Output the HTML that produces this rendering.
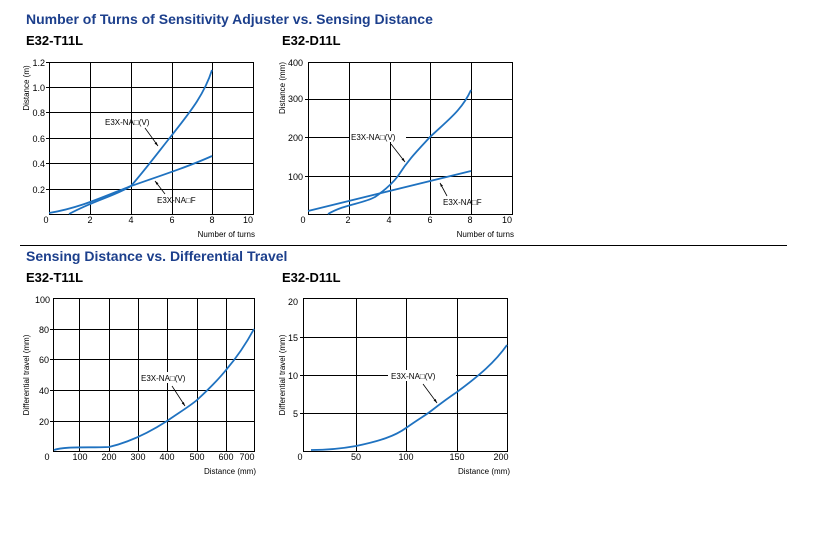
<!DOCTYPE html>
<html><head><meta charset="utf-8"><style>
html,body{margin:0;padding:0;background:#fff;}
svg{display:block;font-family:"Liberation Sans",Arial,sans-serif;}
.t{font-size:9px;fill:#000}
.l{font-size:8px;fill:#000}
.g{stroke:#000;stroke-width:1;fill:none}
.c{stroke:#1f72c0;stroke-width:1.8;fill:none}
.a{stroke:#000;stroke-width:0.8;fill:none}
</style></head><body>
<svg width="819" height="541" viewBox="0 0 819 541">
<text x="26" y="24" font-size="14" font-weight="bold" fill="#1c3f8c">Number of Turns of Sensitivity Adjuster vs. Sensing Distance</text>
<text x="26" y="45" font-size="13" font-weight="bold">E32-T11L</text>
<text x="282" y="45" font-size="13" font-weight="bold">E32-D11L</text>
<line x1="20" y1="245.5" x2="787" y2="245.5" stroke="#000" stroke-width="1"/>
<text x="26" y="261" font-size="14" font-weight="bold" fill="#1c3f8c">Sensing Distance vs. Differential Travel</text>
<text x="26" y="282" font-size="13" font-weight="bold">E32-T11L</text>
<text x="282" y="282" font-size="13" font-weight="bold">E32-D11L</text>

<!-- Chart 1 -->
<g>
<rect x="49.5" y="62.5" width="204" height="152" class="g"/>
<path class="g" d="M90.5 62V214M131.5 62V214M172.5 62V214M212.5 62V214M46 62.5H253M46 87.5H253M46 112.5H253M46 138.5H253M46 163.5H253M46 189.5H253"/>
<g class="t" text-anchor="end">
<text x="45" y="66">1.2</text><text x="45" y="91">1.0</text><text x="45" y="116">0.8</text><text x="45" y="142">0.6</text><text x="45" y="167">0.4</text><text x="45" y="193">0.2</text>
</g>
<g class="t" text-anchor="middle">
<text x="46" y="223">0</text><text x="90" y="223">2</text><text x="131" y="223">4</text><text x="172" y="223">6</text><text x="212" y="223">8</text><text x="248" y="223">10</text>
</g>
<text class="l" x="255" y="237" text-anchor="end">Number of turns</text>
<text class="l" transform="translate(29,88) rotate(-90)" text-anchor="middle">Distance (m)</text>
<path class="c" d="M69 214 C95 200,115 196,131 186 C145 170,160 150,172 135 C190 112,204 95,212 70"/>
<path class="c" d="M49 213 C80 208,105 196,131 186 C160 176,190 166,212 156"/>
<text class="l" x="105" y="125">E3X-NA□(V)</text>
<path class="a" d="M145 128L158 146"/><path d="M158 146l-3.5-2.5 2-1.5z" fill="#000"/>
<text class="l" x="157" y="203">E3X-NA□F</text>
<path class="a" d="M165 194L155 181"/><path d="M155 181l3.5 2.3-2 1.5z" fill="#000"/>
</g>

<!-- Chart 2 -->
<g>
<rect x="308.5" y="62.5" width="204" height="152" class="g"/>
<path class="g" d="M349.5 62V214M390.5 62V214M430.5 62V214M471.5 62V214M305 99.5H512M305 137.5H512M305 176.5H512"/>
<g class="t" text-anchor="end">
<text x="303" y="66">400</text><text x="303" y="102">300</text><text x="303" y="141">200</text><text x="303" y="180">100</text>
</g>
<g class="t" text-anchor="middle">
<text x="303" y="223">0</text><text x="348" y="223">2</text><text x="389" y="223">4</text><text x="430" y="223">6</text><text x="470" y="223">8</text><text x="507" y="223">10</text>
</g>
<text class="l" x="514" y="237" text-anchor="end">Number of turns</text>
<text class="l" transform="translate(285,88) rotate(-90)" text-anchor="middle">Distance (mm)</text>
<path class="c" d="M328 214 C345 204,362 204,375 197 C385 190,392 184,398 176 C408 160,418 150,430 137 C448 120,462 110,471 90"/>
<path class="c" d="M308 211 L471 171"/>
<rect x="350" y="131" width="56" height="11" fill="#fff"/>
<text class="l" x="351" y="140">E3X-NA□(V)</text>
<path class="a" d="M391 144L405 162"/><path d="M405 162l-3.5-2.5 2-1.5z" fill="#000"/>
<text class="l" x="443" y="205">E3X-NA□F</text>
<path class="a" d="M447 196L440 183"/><path d="M440 183l3 2.8-2.2 1z" fill="#000"/>
</g>

<!-- Chart 3 -->
<g>
<rect x="53.5" y="298.5" width="201" height="153" class="g"/>
<path class="g" d="M79.5 298V451M109.5 298V451M138.5 298V451M167.5 298V451M197.5 298V451M226.5 298V451M50 329.5H254M50 359.5H254M50 390.5H254M50 421.5H254"/>
<g class="t" text-anchor="end">
<text x="50" y="303">100</text><text x="49" y="333">80</text><text x="49" y="363">60</text><text x="49" y="394">40</text><text x="49" y="425">20</text>
</g>
<g class="t" text-anchor="middle">
<text x="47" y="460">0</text><text x="80" y="460">100</text><text x="109" y="460">200</text><text x="138" y="460">300</text><text x="167" y="460">400</text><text x="197" y="460">500</text><text x="226" y="460">600</text><text x="247" y="460">700</text>
</g>
<text class="l" x="256" y="474" text-anchor="end">Distance (mm)</text>
<text class="l" transform="translate(29,375) rotate(-90)" text-anchor="middle">Differential travel (mm)</text>
<path class="c" d="M54 450 C65 446,90 448,109 447 C130 442,150 432,167 421 C180 412,190 406,197 400 C210 388,218 380,226 370 C238 356,247 342,254 329"/>
<rect x="140" y="372" width="55" height="11" fill="#fff"/>
<text class="l" x="141" y="381">E3X-NA□(V)</text>
<path class="a" d="M172 386L185 406"/><path d="M185 406l-3.3-2.7 2.1-1.3z" fill="#000"/>
</g>

<!-- Chart 4 -->
<g>
<rect x="303.5" y="298.5" width="204" height="153" class="g"/>
<path class="g" d="M356.5 298V451M406.5 298V451M457.5 298V451M300 337.5H507M300 375.5H507M300 413.5H507"/>
<g class="t" text-anchor="end">
<text x="298" y="305">20</text><text x="298" y="341">15</text><text x="298" y="379">10</text><text x="298" y="417">5</text>
</g>
<g class="t" text-anchor="middle">
<text x="300" y="460">0</text><text x="356" y="460">50</text><text x="406" y="460">100</text><text x="457" y="460">150</text><text x="501" y="460">200</text>
</g>
<text class="l" x="510" y="474" text-anchor="end">Distance (mm)</text>
<text class="l" transform="translate(285,375) rotate(-90)" text-anchor="middle">Differential travel (mm)</text>
<path class="c" d="M311 450 C330 450,345 448,356 446 C380 441,395 436,406 428 C420 418,426 415,431 411 C440 404,448 398,457 392 C480 375,495 362,507 345"/>
<rect x="388" y="370" width="68" height="11" fill="#fff"/>
<text class="l" x="391" y="379">E3X-NA□(V)</text>
<path class="a" d="M423 384L437 403"/><path d="M437 403l-3.4-2.6 2.1-1.4z" fill="#000"/>
</g>
</svg>
</body></html>
